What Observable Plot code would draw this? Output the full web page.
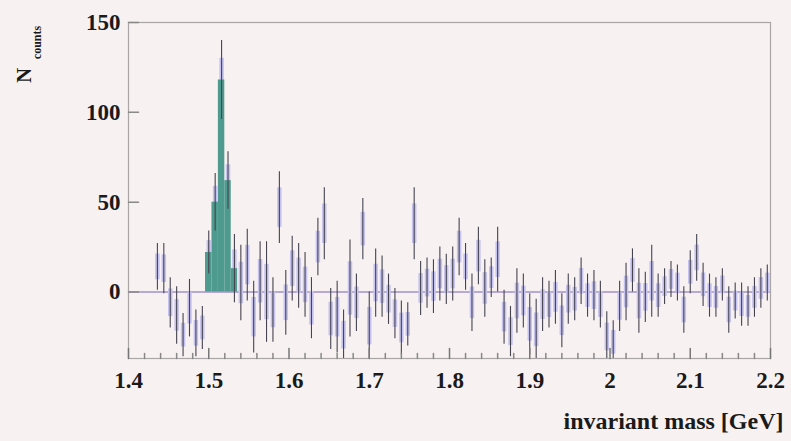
<!DOCTYPE html>
<html>
<head>
<meta charset="utf-8">
<script src="https://cdn.jsdelivr.net/npm/d3@7"></script>
<script src="https://cdn.jsdelivr.net/npm/@observablehq/plot@0.6"></script>
<style>
  html, body { margin: 0; padding: 0; background: #f7f1f1; }
  #chart svg text { font-family: "Liberation Serif", "DejaVu Serif", serif; font-weight: bold; }
</style>
</head>
<body>
<div id="chart"></div>
<script>
// Histogram layout (bins of 0.008 GeV starting at 1.4 GeV)
const binStart = 1.4;
const binWidth = 0.008;
const firstBin = 4;

// Background-subtracted counts per bin (bins 4..99)
const counts = [14, 13, -6, -13, -24, -9, -23, -20, 22, 50, 118, 62, 13, 5, 15, -14, 6, 0, -10, 47,
  -6, 13, 9, 4, -9, 25, 38, -15, -14, -24, 2, -6, 35, -19, 5, 3, -4, -12, -20, -18,
  38, 2, 5, 3, 10, 7, 10, 25, 14, -6, 20, 2, 8, 18, -14, -22, -5, -5, -18, -21,
  -7, -7, -3, -16, -4, -4, 6, -2, -2, -7, -25, -28, -8, 0, 12, -5, -3, 6, -2, 3,
  7, 5, -10, 11, 19, 4, -2, -3, 4, -10, -5, -7, -8, -3, 2, 5];
// Statistical errors per bin
const errors = [13, 14, 14, 16, 12, 16, 13, 12, 12, 16, 22, 16, 19, 21, 20, 20, 22, 28, 18, 20,
  18, 18, 18, 18, 17, 16, 20, 17, 20, 14, 27, 16, 17, 19, 19, 17, 14, 14, 15, 12,
  20, 15, 14, 15, 15, 14, 15, 16, 13, 16, 16, 16, 11, 18, 15, 14, 18, 15, 17, 17,
  15, 13, 15, 15, 14, 12, 13, 12, 14, 13, 14, 12, 14, 16, 12, 18, 14, 20, 12, 10,
  10, 10, 13, 12, 13, 12, 12, 11, 9, 13, 10, 12, 11, 11, 11, 10];
// Signal region (green), bins 12..16
const signalFirstBin = 12;
const signal = [22, 50, 118, 62, 13];

const xTicks = [1.4, 1.5, 1.6, 1.7, 1.8, 1.9, 2.0, 2.1, 2.2];
const xTickLabels = ["1.4", "1.5", "1.6", "1.7", "1.8", "1.9", "2", "2.1", "2.2"];
const xMinorTicks = [1.42,1.44,1.46,1.48,1.52,1.54,1.56,1.58,1.62,1.64,1.66,1.68,1.72,1.74,1.76,1.78,
  1.82,1.84,1.86,1.88,1.92,1.94,1.96,1.98,2.02,2.04,2.06,2.08,2.12,2.14,2.16,2.18];
const yTicks = [0, 50, 100, 150];
const xDomain = [1.4, 2.2];
const yDomain = [-37, 150];
const xLabel = "invariant mass [GeV]";

const bins = counts.map((v, i) => {
  const b = firstBin + i;
  const lo = binStart + b * binWidth;
  return {x: lo + binWidth / 2, v, e: errors[i]};
});
const sig = signal.map((v, i) => {
  const lo = binStart + (signalFirstBin + i) * binWidth;
  return {x1: lo, x2: lo + binWidth, v};
});

// plain line tick shape for vector marks
const lineShape = {draw(context, l) { context.moveTo(0, 0); context.lineTo(0, -l); }};

const chart = Plot.plot({
  width: 791,
  height: 441,
  marginLeft: 128,
  marginRight: 21,
  marginTop: 22,
  marginBottom: 83,
  x: {domain: xDomain},
  y: {domain: yDomain},
  style: {background: "#f7f1f1", fontFamily: "Liberation Serif"},
  marks: [
    Plot.ruleY([0], {stroke: "#7a62b8", strokeWidth: 1.2}),
    Plot.ruleX(bins, {x: "x", y1: d => d.v - 0.55 * d.e, y2: d => d.v + 0.55 * d.e,
      stroke: "#c6c2ee", strokeWidth: 4.5, clip: true}),
    Plot.rectY(sig, {x1: "x1", x2: "x2", y1: 0, y2: "v", fill: "#4f9a8e", clip: true}),
    Plot.ruleX(bins, {x: "x", y1: d => d.v - d.e, y2: d => d.v + d.e,
      stroke: "#45444f", strokeWidth: 1.1, clip: true}),
    Plot.frame({stroke: "#a8a6a6", strokeWidth: 1.2}),
    Plot.vector(xTicks, {x: d => d, y: yDomain[0], length: 10, rotate: 0, anchor: "start", shape: lineShape, stroke: "#777"}),
    Plot.vector(xMinorTicks, {x: d => d, y: yDomain[0], length: 5, rotate: 0, anchor: "start", shape: lineShape, stroke: "#888"}),
    Plot.vector(yTicks, {x: xDomain[0], y: d => d, length: 10, rotate: 90, anchor: "start", shape: lineShape, stroke: "#888"}),
    Plot.axisX(xTicks, {tickSize: 0, tickPadding: 13, fontSize: 23, label: null,
      tickFormat: (d) => xTickLabels[xTicks.indexOf(d)], fill: "#1a1a1a"}),
    Plot.axisY(yTicks, {tickSize: 0, tickPadding: 8, fontSize: 23, label: null, fill: "#1a1a1a"}),
    Plot.text([xLabel], {frameAnchor: "bottom-right", text: d => d, textAnchor: "end",
      lineAnchor: "middle", dx: 13, dy: 63, fontSize: 24, fill: "#1a1a1a"}),
    Plot.text(["N"], {frameAnchor: "top-left", text: d => d, rotate: -90, lineAnchor: "middle",
      textAnchor: "middle", dx: -104, dy: 53, fontSize: 21, fill: "#1a1a1a"}),
    Plot.text(["counts"], {frameAnchor: "top-left", text: d => d, rotate: -90, lineAnchor: "middle",
      textAnchor: "middle", dx: -91, dy: 20, fontSize: 12, fill: "#1a1a1a"})
  ]
});
document.getElementById("chart").appendChild(chart);
</script>
</body>
</html>
